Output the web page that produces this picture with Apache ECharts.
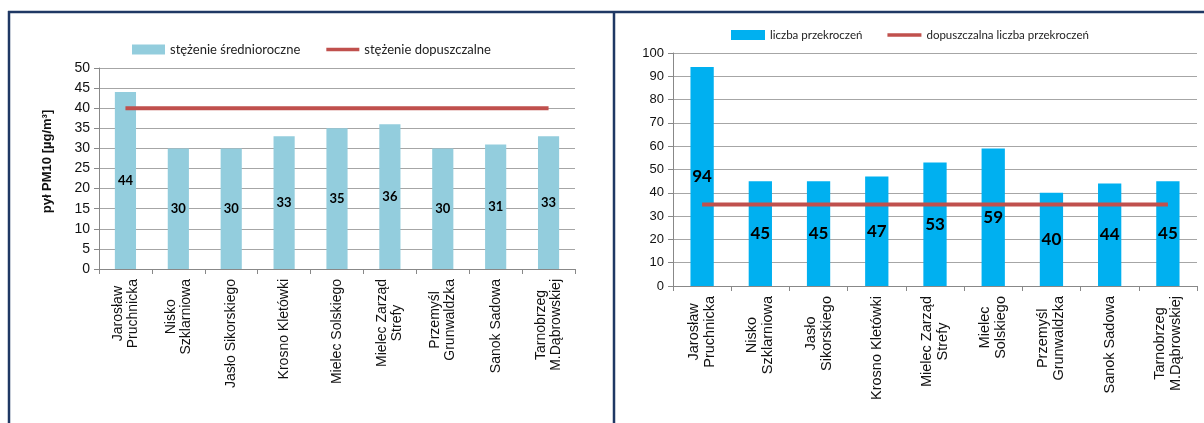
<!DOCTYPE html>
<html>
<head>
<meta charset="utf-8">
<script src="https://cdn.jsdelivr.net/npm/echarts@6/dist/echarts.min.js"></script>
<style>
html,body{margin:0;padding:0;background:#fff;}
#c{width:1204px;height:423px;}
</style>
</head>
<body>
<div id="c"></div>
<script>
// ---- data ----
const leftCategories = ['Jarosław\nPruchnicka','Nisko\nSzklarniowa','Jasło Sikorskiego','Krosno Kletówki','Mielec Solskiego','Mielec Zarząd\nStrefy','Przemyśl\nGrunwaldzka','Sanok Sadowa','Tarnobrzeg\nM.Dąbrowskiej'];
const leftMean = [44, 30, 30, 33, 35, 36, 30, 31, 33];
const leftLimit = [40, 40, 40, 40, 40, 40, 40, 40, 40];
const leftTicks = [0, 5, 10, 15, 20, 25, 30, 35, 40, 45, 50];

const rightCategories = ['Jarosław\nPruchnicka','Nisko\nSzklarniowa','Jasło\nSikorskiego','Krosno Kletówki','Mielec Zarząd\nStrefy','Mielec\nSolskiego','Przemyśl\nGrunwaldzka','Sanok Sadowa','Tarnobrzeg\nM.Dąbrowskiej'];
const rightCount = [94, 45, 45, 47, 53, 59, 40, 44, 45];
const rightLimit = [35, 35, 35, 35, 35, 35, 35, 35, 35];
const rightTicks = [0, 10, 20, 30, 40, 50, 60, 70, 80, 90, 100];

const leftNames = ['stężenie średnioroczne', 'stężenie dopuszczalne'];
const rightNames = ['liczba przekroczeń', 'dopuszczalna liczba przekroczeń'];
const yName = 'pył PM10 [µg/m³]';

// ---- styles ----
const RED = '#C0504D';
const NAVY = '#1F3864';
const lineIcon = 'path://M0,0 L32,0 L32,3.5 L0,3.5 Z';

function centeredLines(v){
  return v.split('\n').map(s => '{c|' + s + '}').join('\n');
}

const chart = echarts.init(document.getElementById('c'), null, {renderer:'canvas'});
const option = {
  backgroundColor: '#fff',
  animation: false,
  legend: [
    {
      left: 132, top: 43, padding: 0, itemWidth: 33, itemHeight: 10, itemGap: 26,
      textStyle: {fontFamily: 'Lato', fontSize: 13, color: '#222'},
      data: [{name: leftNames[0], icon: 'rect'}, {name: leftNames[1], icon: lineIcon}]
    },
    {
      left: 731, top: 29, padding: 0, itemWidth: 34, itemHeight: 10, itemGap: 25,
      textStyle: {fontFamily: 'Lato', fontSize: 11.5, color: '#222'},
      data: [{name: rightNames[0], icon: 'rect'}, {name: rightNames[1], icon: lineIcon}]
    }
  ],
  grid: [
    {left: 99, right: 629, top: 68, bottom: 154},
    {left: 673, right: 7, top: 53, bottom: 137}
  ],
  xAxis: [
    {
      type: 'category', gridIndex: 0, data: leftCategories,
      axisLine: {lineStyle: {color: '#888'}},
      axisTick: {show: true, length: 5, lineStyle: {color: '#888'}},
      axisLabel: {
        interval: 0, rotate: 90, margin: 10, formatter: centeredLines,
        rich: {c: {align: 'center', fontFamily: "'Liberation Sans', Arial", fontSize: 14, lineHeight: 15, color: '#111'}}
      }
    },
    {
      type: 'category', gridIndex: 1, data: rightCategories,
      axisLine: {lineStyle: {color: '#888'}},
      axisTick: {show: true, length: 5, lineStyle: {color: '#888'}},
      axisLabel: {
        interval: 0, rotate: 90, margin: 10, formatter: centeredLines,
        rich: {c: {align: 'center', fontFamily: "'Liberation Sans', Arial", fontSize: 14.5, lineHeight: 16, color: '#111'}}
      }
    }
  ],
  yAxis: [
    {
      type: 'value', gridIndex: 0, min: leftTicks[0], max: leftTicks[leftTicks.length-1], interval: leftTicks[1]-leftTicks[0],
      name: yName, nameLocation: 'middle', nameGap: 45,
      nameTextStyle: {fontFamily: "'Liberation Sans', Arial", fontWeight: 'bold', fontSize: 13, color: '#111', padding: [0,0,0,14]},
      axisLine: {show: true, lineStyle: {color: '#888'}},
      axisTick: {show: true, length: 5, lineStyle: {color: '#888'}},
      axisLabel: {margin: 9, fontFamily: "'Liberation Sans', Arial", fontSize: 14, color: '#111'},
      splitLine: {lineStyle: {color: '#A6A6A6', width: 1}}
    },
    {
      type: 'value', gridIndex: 1, min: rightTicks[0], max: rightTicks[rightTicks.length-1], interval: rightTicks[1]-rightTicks[0],
      axisLine: {show: true, lineStyle: {color: '#888'}},
      axisTick: {show: true, length: 5, lineStyle: {color: '#888'}},
      axisLabel: {margin: 9, fontFamily: "'Liberation Sans', Arial", fontSize: 13, color: '#111'},
      splitLine: {lineStyle: {color: '#A6A6A6', width: 1}}
    }
  ],
  series: [
    {
      name: leftNames[0], type: 'bar', xAxisIndex: 0, yAxisIndex: 0, data: leftMean,
      barCategoryGap: '60%', itemStyle: {color: '#93CDDD'},
      label: {show: true, position: 'inside', fontFamily: 'Lato', fontWeight: 'bold', fontSize: 13, color: '#000'}
    },
    {
      name: leftNames[1], type: 'line', xAxisIndex: 0, yAxisIndex: 0, data: leftLimit,
      symbol: 'none', lineStyle: {color: RED, width: 4}, itemStyle: {color: RED}, z: 5
    },
    {
      name: rightNames[0], type: 'bar', xAxisIndex: 1, yAxisIndex: 1, data: rightCount,
      barCategoryGap: '60%', itemStyle: {color: '#00B0F0'},
      label: {show: true, position: 'inside', fontFamily: 'Lato', fontWeight: 'bold', fontSize: 17, color: '#000'}
    },
    {
      name: rightNames[1], type: 'line', xAxisIndex: 1, yAxisIndex: 1, data: rightLimit,
      symbol: 'none', lineStyle: {color: RED, width: 4}, itemStyle: {color: RED}, z: 5
    }
  ],
  graphic: [
    {type: 'line', shape: {x1: 8, y1: 12, x2: 1204, y2: 12}, style: {stroke: NAVY, lineWidth: 2.5}, z: 100},
    {type: 'line', shape: {x1: 9, y1: 11, x2: 9, y2: 423}, style: {stroke: NAVY, lineWidth: 2.5}, z: 100},
    {type: 'line', shape: {x1: 614, y1: 11, x2: 614, y2: 423}, style: {stroke: NAVY, lineWidth: 2.5}, z: 100}
  ]
};
chart.setOption(option);
</script>
</body>
</html>
